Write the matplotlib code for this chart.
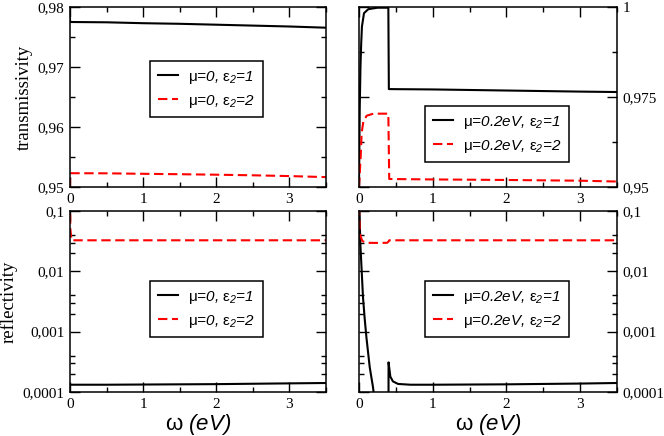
import numpy as np
import matplotlib
matplotlib.use('Agg')
import matplotlib.pyplot as plt
from matplotlib.ticker import MultipleLocator, LogLocator, FuncFormatter, NullFormatter

# transmissivity, mu = 0
w_tl = [0, 0.002, 0.5, 1, 1.5, 2, 2.5, 3, 3.5]
T_mu0_e1 = [0.978, 0.9775, 0.97745, 0.9773, 0.9772, 0.97705, 0.9769, 0.97675, 0.97655]
T_mu0_e2 = [0.95, 0.9523, 0.95228, 0.9522, 0.95213, 0.95205, 0.95195, 0.95182, 0.95165]

# transmissivity, mu = 0.2 eV
w_tr1 = [0, 0.01, 0.02, 0.03, 0.04, 0.068, 0.127, 0.25, 0.398, 0.405, 0.5, 1, 1.5, 2, 2.5, 3, 3.5]
T_mu2_e1 = [0.95, 0.972, 0.9835, 0.990, 0.9946, 0.9983, 0.9994, 0.9998, 0.9998,
            0.9772, 0.97718, 0.9771, 0.97695, 0.9768, 0.97665, 0.9765, 0.97638]
w_tr2 = [0, 0.023, 0.036, 0.059, 0.104, 0.195, 0.398, 0.41, 1, 2, 3, 3.5]
T_mu2_e2 = [0.95, 0.9585, 0.965, 0.9682, 0.9698, 0.97037, 0.97037, 0.95222,
            0.9521, 0.95195, 0.95175, 0.95152]

# reflectivity, mu = 0
w_bl1 = [0, 0.5, 1, 1.5, 2, 2.5, 3, 3.5]
R_mu0_e1 = [1.32e-4, 1.32e-4, 1.33e-4, 1.34e-4, 1.35e-4, 1.37e-4, 1.39e-4, 1.41e-4]
w_bl2 = [0, 0.005, 0.02, 1, 2, 3, 3.5]
R_mu0_e2 = [0.15, 0.05, 0.0327, 0.0327, 0.0327, 0.0327, 0.0327]

# reflectivity, mu = 0.2 eV
w_br1 = [0, 0.018, 0.054, 0.077, 0.1, 0.145, 0.19, 0.25, 0.35, 0.399, 0.401, 0.425,
         0.46, 0.53, 0.7, 1, 1.5, 2, 2.5, 3, 3.5]
R_mu2_e1 = [0.2, 0.0287, 0.00376, 0.00165, 8.2e-4, 2.6e-4, 1.2e-4, 3e-5, 8e-6, 5e-6,
            3.1e-4, 1.8e-4, 1.5e-4, 1.36e-4, 1.32e-4, 1.32e-4, 1.33e-4, 1.34e-4,
            1.36e-4, 1.38e-4, 1.41e-4]
w_br2 = [0, 0.01, 0.023, 0.045, 0.1, 0.2, 0.38, 0.4, 0.41, 0.5, 1, 2, 3, 3.5]
R_mu2_e2 = [0.12, 0.045, 0.0376, 0.0318, 0.0297, 0.0296, 0.0297, 0.031, 0.0327,
            0.0327, 0.0327, 0.0327, 0.0327, 0.0327]

lab0 = [r'$\mathsf{μ}$=0, $\mathsf{ε}_2$=1', r'$\mathsf{μ}$=0, $\mathsf{ε}_2$=2']
lab2 = [r'$\mathsf{μ}$=0.2eV, $\mathsf{ε}_2$=1', r'$\mathsf{μ}$=0.2eV, $\mathsf{ε}_2$=2']

plt.rcParams['mathtext.fontset'] = 'custom'
plt.rcParams['mathtext.rm'] = 'Liberation Sans:italic'
plt.rcParams['mathtext.it'] = 'Liberation Sans:italic'
plt.rcParams['mathtext.sf'] = 'Liberation Sans'
plt.rcParams['font.family'] = ['Liberation Serif', 'DejaVu Serif']

W, H = 664, 436
fig = plt.figure(figsize=(6.64, 4.36), dpi=100)


def box(x0, x1, top, bottom):
    return [x0 / W, 1 - bottom / H, (x1 - x0) / W, (bottom - top) / H]


ax_tl = fig.add_axes(box(70, 326, 7, 187))
ax_tr = fig.add_axes(box(359, 617, 7, 187))
ax_bl = fig.add_axes(box(70, 326, 211, 392))
ax_br = fig.add_axes(box(359, 617, 211, 392))


def comma(v, pos):
    s = ('%.4f' % v).rstrip('0').rstrip('.')
    return s.replace('.', ',')


solid = dict(color='black', lw=1.5)
dashed = dict(color='red', lw=1.5, ls=(0, (4.5, 2.2)))

ax_tl.plot(w_tl, T_mu0_e1, label=lab0[0], **solid)
ax_tl.plot(w_tl, T_mu0_e2, label=lab0[1], **dashed)
ax_tr.plot(w_tr1, T_mu2_e1, label=lab2[0], **solid)
ax_tr.plot(w_tr2, T_mu2_e2, label=lab2[1], **dashed)
ax_bl.plot(w_bl1, R_mu0_e1, label=lab0[0], **solid)
ax_bl.plot(w_bl2, R_mu0_e2, label=lab0[1], **dashed)
ax_br.plot(w_br1, R_mu2_e1, label=lab2[0], **solid)
ax_br.plot(w_br2, R_mu2_e2, label=lab2[1], **dashed)

ax_tl.set_ylim(0.95, 0.98)
ax_tl.yaxis.set_major_locator(MultipleLocator(0.01))
ax_tl.yaxis.set_minor_locator(MultipleLocator(0.005))
ax_tr.set_ylim(0.95, 1.0)
ax_tr.yaxis.set_major_locator(MultipleLocator(0.025))
ax_tr.yaxis.set_minor_locator(MultipleLocator(0.0125))

for ax in (ax_bl, ax_br):
    ax.set_yscale('log')
    ax.set_ylim(1e-4, 0.1)
    ax.yaxis.set_major_locator(LogLocator(base=10, numticks=10))
    ax.yaxis.set_minor_locator(LogLocator(base=10, subs=(2, 3, 4), numticks=10))
    ax.yaxis.set_minor_formatter(NullFormatter())

for ax in (ax_tl, ax_tr, ax_bl, ax_br):
    ax.set_xlim(0, 3.5)
    ax.xaxis.set_major_locator(MultipleLocator(1))
    ax.xaxis.set_minor_locator(MultipleLocator(0.5))
    ax.yaxis.set_major_formatter(FuncFormatter(comma))
    ax.tick_params(which='both', direction='in', top=True, right=True, left=True,
                   width=1.0, labelsize=11, pad=4)
    ax.tick_params(which='major', length=7)
    ax.tick_params(which='minor', length=3.5)
    for s in ax.spines.values():
        s.set_linewidth(1.1)

for ax in (ax_tr, ax_br):
    ax.tick_params(axis='y', which='both', labelleft=False, labelright=True)

ax_tl.set_ylabel('transmissivity', fontsize=13.5)
ax_bl.set_ylabel('reflectivity', fontsize=13.5)
ax_tl.yaxis.set_label_coords(-0.145, 0.5)
ax_bl.yaxis.set_label_coords(-0.205, 0.5)
for ax in (ax_bl, ax_br):
    ax.set_xlabel(r'$\mathsf{ω}$ (eV)', fontsize=16, family='Liberation Sans',
                  style='italic', labelpad=1)

leg_kw = dict(loc='upper left', borderaxespad=0, fancybox=False, edgecolor='black',
              framealpha=1, handlelength=1.35, handletextpad=0.65, labelspacing=0.45,
              borderpad=0.5, prop={'family': 'Liberation Sans', 'style': 'italic', 'size': 11})
for ax, anchor in ((ax_tl, (0.3125, 0.70)), (ax_tr, (0.256, 0.45)),
                   (ax_bl, (0.3125, 0.613)), (ax_br, (0.256, 0.613))):
    leg = ax.legend(bbox_to_anchor=anchor, **leg_kw)
    leg.get_frame().set_linewidth(1.1)

fig.savefig('out.png', dpi=100)
